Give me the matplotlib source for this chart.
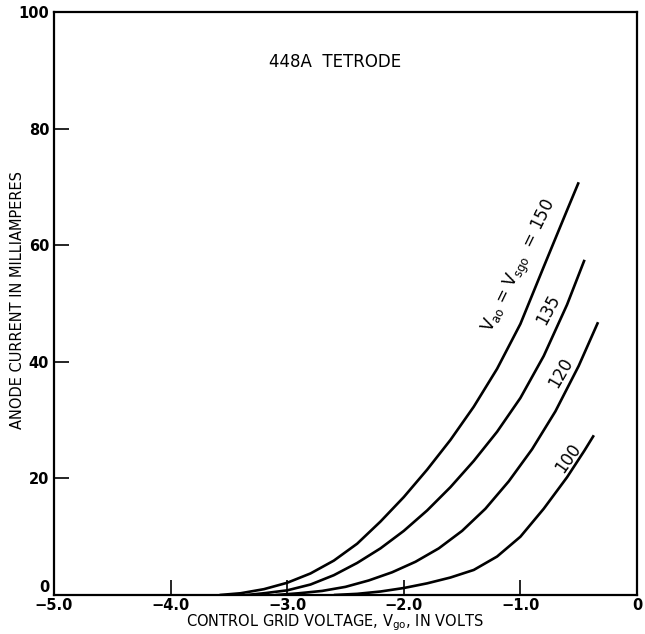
import matplotlib
matplotlib.use('Agg')
from matplotlib import pyplot as plt

# anode current (mA) vs control grid voltage (V)
x150 = [-3.58, -3.4, -3.2, -3.0, -2.8, -2.6, -2.4, -2.2, -2.0, -1.8,
        -1.6, -1.4, -1.2, -1.0, -0.8, -0.6, -0.5]
y150 = [0.0, 0.3, 1.0, 2.1, 3.7, 5.9, 8.8, 12.6, 16.8, 21.5,
        26.6, 32.3, 38.8, 46.5, 56.3, 66.0, 70.8]
x135 = [-3.35, -3.2, -3.0, -2.8, -2.6, -2.4, -2.2, -2.0, -1.8, -1.6,
        -1.4, -1.2, -1.0, -0.8, -0.6, -0.45]
y135 = [0.0, 0.3, 0.8, 1.8, 3.4, 5.5, 8.0, 11.0, 14.5, 18.5,
        23.0, 28.0, 33.8, 41.0, 49.8, 57.5]
x120 = [-3.1, -2.9, -2.7, -2.5, -2.3, -2.1, -1.9, -1.7, -1.5, -1.3,
        -1.1, -0.9, -0.7, -0.5, -0.334]
y120 = [0.0, 0.3, 0.7, 1.4, 2.5, 3.9, 5.7, 8.0, 11.0, 14.8,
        19.5, 25.0, 31.5, 39.3, 46.8]
x100 = [-2.6, -2.4, -2.2, -2.0, -1.8, -1.6, -1.4, -1.2, -1.0, -0.8,
        -0.6, -0.45, -0.37]
y100 = [0.0, 0.2, 0.6, 1.2, 2.0, 3.0, 4.3, 6.6, 10.0, 14.8,
        20.2, 24.8, 27.4]

xticks = [-5, -4, -3, -2, -1, 0]
xlabels = ['\u22125.0', '\u22124.0', '\u22123.0', '\u22122.0', '\u22121.0', '0']
yticks = [0, 20, 40, 60, 80, 100]

plt.rcParams['font.family'] = ['DejaVu Sans']

fig = plt.figure(figsize=(6.45, 6.34), dpi=100)
ax = fig.add_axes([0.0837, 0.0615, 0.9039, 0.9195])

for xs, ys in [(x150, y150), (x135, y135), (x120, y120), (x100, y100)]:
    ax.plot(xs, ys, color='black', lw=1.9, solid_capstyle='butt',
            solid_joinstyle='round')

ax.set_xlim(-5, 0)
ax.set_ylim(0, 100)
ax.set_xticks(xticks)
ax.set_xticklabels(xlabels, fontsize=10.5, fontweight='bold')
ax.set_yticks(yticks)
ax.set_yticklabels([str(v) for v in yticks], fontsize=10.5, fontweight='bold')
ax.get_yticklabels()[0].set_va('bottom')
ax.tick_params(direction='in', length=10.5, width=1.2)
ax.tick_params(axis='x', pad=2)
for s in ax.spines.values():
    s.set_linewidth(1.6)

ax.set_xlabel('CONTROL GRID VOLTAGE, V$_{\\mathregular{go}}$, IN VOLTS',
              fontsize=10.5, va='center')
ax.xaxis.set_label_coords(0.482, -0.047)
ax.set_ylabel('ANODE CURRENT IN MILLIAMPERES', fontsize=10.5, va='center')
ax.yaxis.set_label_coords(-0.062, 0.506)

ax.text(-2.59, 91.5, '448A  TETRODE', fontsize=12, ha='center', va='center')
ax.text(-1.0, 56.3, 'V$_{\\mathregular{ao}}$ = V$_{\\mathregular{sgo}}$  = 150',
        fontsize=12, rotation=64, ha='center', va='center')
ax.text(-0.76, 49.0, '135', fontsize=12, rotation=62, ha='center', va='center')
ax.text(-0.65, 38.1, '120', fontsize=12, rotation=60, ha='center', va='center')
ax.text(-0.59, 23.5, '100', fontsize=12, rotation=55, ha='center', va='center')

fig.savefig('out.png', dpi=100)
